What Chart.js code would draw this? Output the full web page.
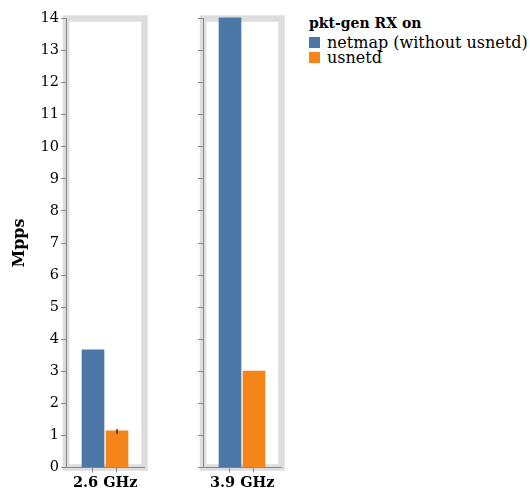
<!DOCTYPE html>
<html>
<head>
<meta charset="utf-8">
<script src="https://cdn.jsdelivr.net/npm/chart.js@4/dist/chart.umd.min.js"></script>
<style>
  html, body { margin: 0; padding: 0; background: #fff; }
  body { width: 530px; height: 493px; position: relative; overflow: hidden; font-family: 'DejaVu Serif', serif; }
  canvas { position: absolute; top: 0; }
  #c1 { left: 0; }
  #c2 { left: 150px; }
  .lg { position: absolute; white-space: nowrap; color: #000; }
  .sw { position: absolute; width: 11px; height: 11px; }
</style>
</head>
<body>
<canvas id="c1" width="150" height="493"></canvas>
<canvas id="c2" width="135" height="493"></canvas>
<div id="legend"></div>
<script>
// ---- data ----
const facets = ['2.6 GHz', '3.9 GHz'];
const seriesNames = ['netmap (without usnetd)', 'usnetd'];
const netmap = [3.67, 14.02];
const usnetd = [1.14, 3.01];
const usnetdErrLow = [1.05, null];
const usnetdErrHigh = [1.20, null];
const yMin = 0;
const yMax = 14;
const yStep = 1;
const yTitle = 'Mpps';
const legendTitle = 'pkt-gen RX on';

// ---- styles ----
const colors = ['#4c78a8', '#f58518'];
const FONT = "'DejaVu Serif', serif";
Chart.defaults.font.family = FONT;
Chart.defaults.color = '#000';

const seriesValues = [netmap, usnetd];

const framePlugin = {
  id: 'frame',
  beforeDraw(chart) {
    const a = chart.chartArea, ctx = chart.ctx;
    ctx.save();
    ctx.strokeStyle = '#dddddd';
    ctx.lineWidth = 6.5;
    ctx.strokeRect(a.left, a.top, a.right - a.left, a.bottom - a.top);
    ctx.restore();
  }
};

const errPlugin = {
  id: 'errbars',
  afterDatasetsDraw(chart, args, opts) {
    if (opts.low == null || opts.high == null) return;
    const xs = chart.scales.x, ys = chart.scales.y, ctx = chart.ctx;
    const x = xs.getPixelForValue(opts.series);
    ctx.save();
    ctx.strokeStyle = '#1a1a1a';
    ctx.lineWidth = 1.3;
    ctx.beginPath();
    ctx.moveTo(x, ys.getPixelForValue(opts.low));
    ctx.lineTo(x, ys.getPixelForValue(opts.high));
    ctx.stroke();
    ctx.restore();
  }
};

function makePanel(id, i, yAxisWidth, padRight, first) {
  new Chart(document.getElementById(id), {
    type: 'bar',
    data: {
      datasets: seriesNames.map((name, s) => ({
        label: name,
        data: [{ x: s, y: seriesValues[s][i] }],
        backgroundColor: colors[s],
        barThickness: 22,
        grouped: false,
        clip: 4
      }))
    },
    options: {
      responsive: false,
      animation: false,
      devicePixelRatio: 1,
      layout: { padding: { top: 18.5, right: padRight, bottom: 0, left: 0 } },
      plugins: {
        legend: { display: false },
        tooltip: { enabled: false },
        errbars: { series: 1, low: usnetdErrLow[i], high: usnetdErrHigh[i] }
      },
      scales: {
        x: {
          type: 'linear',
          min: -1.125,
          max: 2.146,
          offset: false,
          afterBuildTicks: sc => { sc.ticks = seriesNames.map((_, k) => ({ value: k })); },
          afterFit: sc => { sc.height = 25.5; },
          ticks: { display: false },
          grid: { offset: false, drawOnChartArea: false, drawTicks: true, tickLength: 5, color: '#888' },
          border: { display: true, color: '#888', width: 1 },
          title: {
            display: true, text: facets[i], color: '#000',
            font: { family: FONT, size: 14.5, weight: 'bold' },
            padding: { top: 0, bottom: 1 }
          }
        },
        y: {
          type: 'linear',
          min: yMin,
          max: yMax,
          afterFit: sc => { sc.width = yAxisWidth; },
          ticks: { display: first, stepSize: yStep, padding: 2, color: '#000', font: { family: FONT, size: 14.5 } },
          grid: { drawOnChartArea: false, drawTicks: true, tickLength: 5, color: '#888' },
          border: { display: true, color: '#888', width: 1 },
          title: {
            display: first, text: yTitle, color: '#000',
            font: { family: FONT, size: 16, weight: 'bold' },
            padding: { top: 10.5, bottom: 0 }
          }
        }
      }
    },
    plugins: [framePlugin, errPlugin]
  });
}

makePanel('c1', 0, 66, 5.5, true);
makePanel('c2', 1, 53, 3.5, false);

// ---- legend (HTML text) ----
const lg = document.getElementById('legend');
const t = document.createElement('div');
t.className = 'lg';
t.textContent = legendTitle;
t.style.cssText = 'left:309px;top:15px;font-weight:bold;font-size:14px;line-height:16px;';
lg.appendChild(t);
seriesNames.forEach((name, s) => {
  const sw = document.createElement('div');
  sw.className = 'sw';
  sw.style.left = '309px';
  sw.style.top = (37 + s * 15.3) + 'px';
  sw.style.background = colors[s];
  lg.appendChild(sw);
  const l = document.createElement('div');
  l.className = 'lg';
  l.textContent = name;
  l.style.cssText = 'left:327px;font-size:16px;line-height:15px;top:' + (34.5 + s * 15.3) + 'px;';
  lg.appendChild(l);
});
</script>
</body>
</html>
